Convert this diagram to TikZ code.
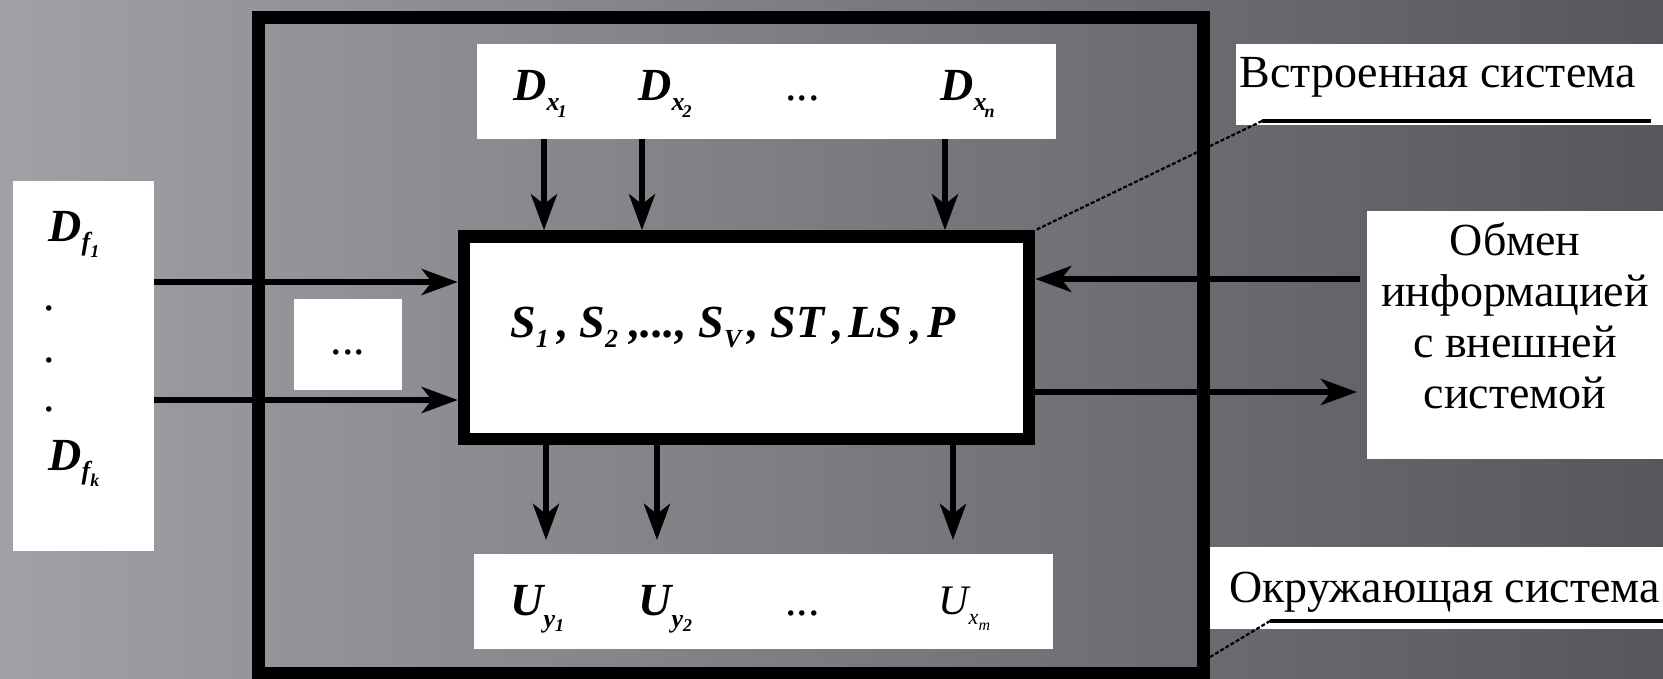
\documentclass[tikz,border=0pt]{standalone}
\usepackage{fontspec}
\setmainfont{Liberation Serif}
\usetikzlibrary{arrows.meta,fit}
\newcommand{\lo}[3]{\raisebox{-#1}{\fontsize{#2}{#2}\selectfont #3}}
\begin{document}
\begin{tikzpicture}[x=0.5pt,y=-0.5pt,
  wbox/.style={fill=white, draw=none, inner sep=0pt, outer sep=0pt},
  arr/.style={line width=3pt, -{Stealth[length=18pt,width=13pt,inset=5pt]}},
  lbl/.style={inner sep=0pt, font=\fontsize{23}{25.6}\selectfont},
  sym/.style={inner sep=0pt, font=\fontsize{23}{25}\selectfont\bfseries\itshape},
  leader/.style={line width=1.1pt, dash pattern=on 2pt off 1pt},
  uline/.style={line width=1.6pt}]
\useasboundingbox (0,0) rectangle (1663,679);
\shade[left color={rgb,255:red,162;green,160;blue,166}, middle color={rgb,255:red,124;green,121;blue,128}, right color={rgb,255:red,88;green,85;blue,92}] (0,0) rectangle (1663,679);

% outer frame
\node[fit={(258.5,17.5) (1203.5,673.5)}, inner sep=0pt, draw, line width=6.5pt] (frame) {};

% white boxes
\node[wbox, fit={(477,44) (1056,139)}] (dbox) {};
\node[wbox, fit={(474,554) (1053,649)}] (ubox) {};
\node[wbox, fit={(13,181) (154,551)}] (lbox) {};
\node[wbox, fit={(294,299) (402,390)}] (sbox) {};
\node[wbox, fit={(1236,44) (1670,125)}] (ebox) {};
\node[wbox, fit={(1210,547) (1670,629)}] (obox) {};
\node[wbox, fit={(1367,211) (1670,459)}] (xbox) {};

% core
\node[fit={(464,236.5) (1029,439)}, inner sep=0pt, draw, line width=6.25pt, fill=white] (core) {};

% coordinates for connectors
\coordinate (t1) at (544,0);
\coordinate (t2) at (642,0);
\coordinate (t3) at (945,0);
\coordinate (b1) at (546,0);
\coordinate (b2) at (657,0);
\coordinate (b3) at (953,0);
\coordinate (l1) at (0,282);
\coordinate (l2) at (0,400);
\coordinate (r1) at (0,279);
\coordinate (r2) at (0,392);

\draw[arr] (dbox.south -| t1) -- (core.north -| t1);
\draw[arr] (dbox.south -| t2) -- (core.north -| t2);
\draw[arr] (dbox.south -| t3) -- (core.north -| t3);
\draw[arr, shorten >=7pt] (core.south -| b1) -- (ubox.north -| b1);
\draw[arr, shorten >=7pt] (core.south -| b2) -- (ubox.north -| b2);
\draw[arr, shorten >=7pt] (core.south -| b3) -- (ubox.north -| b3);
\draw[arr] (lbox.east |- l1) -- (core.west |- l1);
\draw[arr] (lbox.east |- l2) -- (core.west |- l2);
\draw[arr, shorten <=3.5pt] (xbox.west |- r1) -- (core.east |- r1);
\draw[arr, shorten >=5pt] (core.east |- r2) -- (xbox.west |- r2);

% leaders
\coordinate (e1) at (1262,121);
\draw[uline, shorten >=9.5pt] (e1) -- (e1 -| ebox.east);
\draw[leader] (e1) -- (core.north east);
\coordinate (e2) at (1270,621);
\coordinate (f2) at (1210,657);
\draw[uline] (e2) -- (e2 -| obox.east);
\draw[leader] (e2) -- (f2);

% texts
\node[sym, anchor=base west] (dx1) at (513,101) {D\lo{5pt}{13}{x}\kern-1pt\lo{8.5pt}{9}{1}};
\node[sym, anchor=base west] (dx2) at (638,101) {D\lo{5pt}{13}{x}\kern-1pt\lo{8.5pt}{9}{2}};
\node[lbl, anchor=base west] (dxd) at (785,101) {...};
\node[sym, anchor=base west] (dxn) at (940,101) {D\lo{5pt}{13}{x}\kern-1pt\lo{8.5pt}{9}{n}};

\node[sym, anchor=base west] (uy1) at (510,615) {U\lo{6pt}{13}{y}\lo{8pt}{9}{1}};
\node[sym, anchor=base west] (uy2) at (638,615) {U\lo{6pt}{13}{y}\lo{8pt}{9}{2}};
\node[lbl, anchor=base west] (uyd) at (785,615) {...};
\node[lbl, font=\fontsize{21}{21}\selectfont\itshape, anchor=base west] (uxm) at (938,614) {U\lo{5pt}{11}{x}\lo{8pt}{8}{m}};

\node[sym, anchor=base west] (df1) at (48,242) {D\lo{4.5pt}{13}{f}\lo{8pt}{9}{1}};
\node[lbl, anchor=base west] (dot1) at (43,310) {.};
\node[lbl, anchor=base west] (dot2) at (43,362) {.};
\node[lbl, anchor=base west] (dot3) at (43,411) {.};
\node[sym, anchor=base west] (dfk) at (48,470) {D\lo{4.5pt}{13}{f}\lo{8pt}{9}{k}};
\node[lbl, anchor=base] (sdots) at ([yshift=-4.75pt]sbox.center) {...};

\node[sym, anchor=base west] (ctext) at (510,337) {S\lo{5pt}{13}{1}\kern4.5pt,\kern5pt S\lo{5pt}{13}{2}\kern5.5pt,...,\kern6pt S\lo{5pt}{13}{V}\kern3pt,\kern6pt ST\kern4pt,\kern2pt LS\kern4.5pt,\kern2.5pt P};

\node[lbl, anchor=base west] (etext) at (1239,88) {Встроенная система};
\node[lbl, anchor=base west] (otext) at (1229,602) {Окружающая система};
\node[lbl, align=center, anchor=north] (xtext) at (1515,222) {Обмен\\информацией\\с внешней\\системой};
\end{tikzpicture}
\end{document}
